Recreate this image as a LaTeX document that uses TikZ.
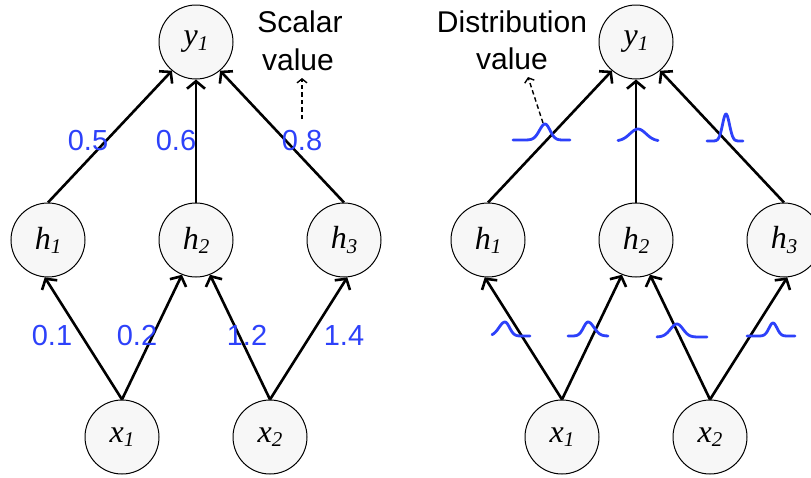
\documentclass[tikz,border=0pt]{standalone}
\usepackage{fontspec}
\setmainfont{Liberation Serif}
\setsansfont{Liberation Sans}
\usetikzlibrary{arrows.meta}
\definecolor{lblue}{RGB}{45,65,250}
\definecolor{nfill}{RGB}{247,247,247}
\newcommand{\nv}[2]{\textit{#1}\raisebox{-0.13em}{\fontsize{21}{21}\selectfont\textit{#2}}}
% a mu b base h sL sR
\newcommand{\gcurve}[7]{%
  \draw[dist] plot[domain=#1:#2,samples=30,smooth] (\x,{#4-#5*exp(-0.5*((\x-#2)/#6)^2)})
    -- plot[domain=#2:#3,samples=30,smooth] (\x,{#4-#5*exp(-0.5*((\x-#2)/#7)^2)});}
\tikzset{
  neuron/.style={circle,draw=black,line width=1pt,fill=nfill,minimum size=74pt,inner sep=0pt,font=\fontsize{32}{32}\selectfont},
  conn/.style={line width=2.6pt,-{Straight Barb[length=7.5pt,width=18pt]}},
  wlabel/.style={text=lblue,font=\sffamily\fontsize{29}{29}\selectfont,anchor=base,inner sep=0pt},
  note/.style={text=black,font=\sffamily\fontsize{30}{30}\selectfont,anchor=base,inner sep=0pt},
  hint/.style={line width=1.4pt,dash pattern=on 4.5pt off 3pt,-{Straight Barb[length=4pt,width=10pt]}},
  dist/.style={draw=lblue,line width=2.8pt,line cap=round,line join=round},
}
\begin{document}
\begin{tikzpicture}[x=1pt,y=-1pt]
\clip (0,0) rectangle (811,477);
\fill[white] (0,0) rectangle (811,477);
% ---------- left network ----------
\node[neuron] (ly) at (196,42) {\nv{y}{1}};
\node[neuron] (lh1) at (48,240) {\nv{h}{1}};
\node[neuron] (lh2) at (196,240) {\nv{h}{2}};
\node[neuron] (lh3) at (344,240) {\nv{h}{3}};
\node[neuron] (lx1) at (122,437) {\nv{x}{1}};
\node[neuron] (lx2) at (270,437) {\nv{x}{2}};
\draw[conn] (lh1.north) -- (ly.-130);
\draw[conn] (lh2.north) -- (ly.south);
\draw[conn] (lh3.north) -- (ly.-50);
\draw[conn] (lx1.north) -- (lh1.-95);
\draw[conn] (lx1.north) -- (lh2.-112);
\draw[conn] (lx2.north) -- (lh2.-68);
\draw[conn] (lx2.north) -- (lh3.-85);
\node[wlabel] (w05) at (88,150) {0.5};
\node[wlabel] (w06) at (176,150) {0.6};
\node[wlabel] (w08) at (302,150) {0.8};
\node[wlabel] (w01) at (52,345) {0.1};
\node[wlabel] (w02) at (137,345) {0.2};
\node[wlabel] (w12) at (247,345) {1.2};
\node[wlabel] (w14) at (344,345) {1.4};
\node[note] (sc1) at (300,32) {Scalar};
\node[note] (sc2) at (298,70) {value};
\coordinate (sA) at (302,119);
\coordinate (sB) at (302,78);
\draw[hint] (sA) -- (sB);
% ---------- right network ----------
\node[neuron] (ry) at (636,42) {\nv{y}{1}};
\node[neuron] (rh1) at (488,240) {\nv{h}{1}};
\node[neuron] (rh2) at (636,240) {\nv{h}{2}};
\node[neuron] (rh3) at (784,240) {\nv{h}{3}};
\node[neuron] (rx1) at (562,437) {\nv{x}{1}};
\node[neuron] (rx2) at (710,437) {\nv{x}{2}};
\draw[conn] (rh1.north) -- (ry.-130);
\draw[conn] (rh2.north) -- (ry.south);
\draw[conn] (rh3.north) -- (ry.-50);
\draw[conn] (rx1.north) -- (rh1.-95);
\draw[conn] (rx1.north) -- (rh2.-112);
\draw[conn] (rx2.north) -- (rh2.-68);
\draw[conn] (rx2.north) -- (rh3.-85);
\node[note] (di1) at (512,32) {Distribution};
\node[note] (di2) at (512,69) {value};
\coordinate (dA) at (543,123);
\coordinate (dB) at (528,77);
\draw[hint] (dA) -- (dB);
% distributions
\gcurve{513}{545}{570}{140}{16}{5.5}{5}
\gcurve{618}{638}{658}{141}{12}{8}{8}
\gcurve{707}{726}{743}{141}{27}{3.5}{3.5}
\gcurve{492}{505}{530}{336}{14}{6}{4.5}
\gcurve{568}{588}{608}{336}{14}{4.5}{6}
\gcurve{657}{677}{707}{337}{13}{6.5}{6}
\gcurve{747}{773}{795}{336}{13}{4}{4}
\end{tikzpicture}
\end{document}
